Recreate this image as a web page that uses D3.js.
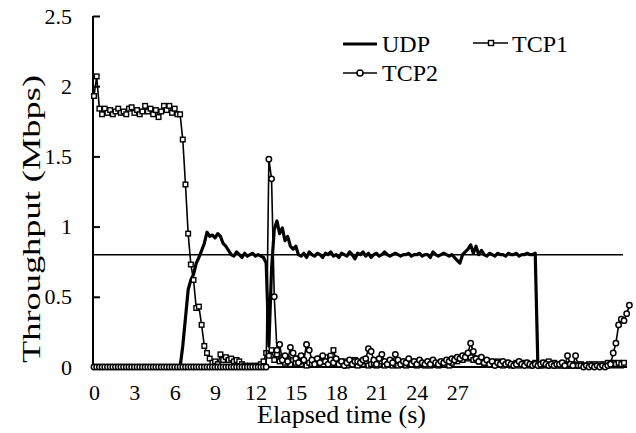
<!DOCTYPE html>
<html><head><meta charset="utf-8">
<script src="https://cdn.jsdelivr.net/npm/d3@7"></script>
</head><body style="margin:0">
<svg id="c" width="636" height="433"></svg>
<script>
// Samples (one per 0.2 of the printed time scale)
const udp = [
0,0,0,0,0,0,0,0,0,0, 0,0,0,0,0,0,0,0,0,0, 0,0,0,0,0,0,0,0,0,0, 0,0,0,
0.15,0.35,0.55,0.62,0.66,0.74,0.78,0.83,0.88,0.96,0.93,0.94,0.92,0.95,0.93,0.88,0.86,0.83,0.80,0.79,0.82,0.80,0.78,0.81,0.79,0.80,0.81,0.79,0.80,0.79,0.78,0.74,
0.15,0.70,0.98,1.04,0.95,0.99,0.90,0.93,0.86,0.84,0.86,0.80,0.79,0.81,
0.78,0.82,0.80,0.79,0.81,0.80,0.78,0.81,0.80,0.82,0.79,0.80,0.78,0.81,0.80,0.79,0.82,0.80,0.77,0.81,
0.80,0.82,0.79,0.81,0.78,0.80,0.81,0.79,0.80,0.82,0.80,0.79,0.80,0.81,0.80,0.79,0.80,0.80,0.81,0.79,
0.80,0.80,0.81,0.79,0.80,0.80,0.78,0.82,0.80,0.79,0.80,0.81,0.80,0.79,0.80,0.78,0.76,0.74,0.80,0.82,
0.84,0.87,0.81,0.86,0.80,0.83,0.80,0.79,0.81,0.80,0.79,0.81,0.80,0.80,0.79,0.81,0.80,0.80,0.81,0.79,
0.80,0.80,0.81,0.80,0.80,0.81,
0,0,0,0,0,0,0,0,0,0, 0,0,0,0,0,0,0,0,0,0, 0,0,0,0,0,0,0,0,0,0, 0,0,0
];
const tcp1 = [
1.93,2.07,1.84,1.80,1.84,1.81,1.83,1.80,1.82,1.84,1.81,1.82,1.80,1.84,1.85,1.81,1.83,1.80,1.82,1.86,
1.82,1.84,1.80,1.83,1.78,1.82,1.86,1.83,1.86,1.81,1.84,1.80,1.80,
1.62,1.30,0.95,0.73,0.62,0.42,0.43,0.30,0.15,0.10,0.06,0.03,0.04,0.02,0.09,0.05,0.07,0.05,0.06,0.04,0.05,0.04,
0.02,0.01,0.00,0.01,0.00,0.01,0.00,0.02,0.04,0.10,0.08,0.12,0.05,0.09,0.04,0.07,0.03,0.06,0.02,0.05,
0.03,0.06,0.02,0.04,0.01,0.03,0.02,0.05,0.03,0.06,0.04,0.07,0.03,0.08,0.12,0.05,0.03,0.02,0.04,0.01,
0.03,0.02,0.05,0.01,0.03,0.02,0.04,0.01,0.02,0.03,0.01,0.02,0.04,0.01,0.02,0.03,0.01,0.02,0.01,0.03,
0.02,0.01,0.02,0.04,0.02,0.01,0.03,0.02,0.01,0.02,0.01,0.03,0.02,0.01,0.02,0.03,0.02,0.01,0.03,0.05,
0.04,0.06,0.05,0.08,0.06,0.07,0.05,0.06,0.04,0.05,0.03,0.04,0.02,0.03,0.02,0.04,0.02,0.01,0.03,0.02,
0.01,0.02,0.03,0.01,0.02,0.03,0.02,0.01,0.02,0.03,0.02,0.01,0.03,0.02,0.04,0.02,0.03,0.01,0.02,0.01,
0.02,0.01,0.01,0.02,0.01,0.01,0.02,0.01,0.01,0.02,0.01,0.02,0.01,0.02,0.01,0.02,0.03,0.02,0.03,0.02,
0.03,0.02,0.03
];
const tcp2 = [
0,0,0,0,0,0,0,0,0,0, 0,0,0,0,0,0,0,0,0,0, 0,0,0,0,0,0,0,0,0,0,
0,0,0,0,0,0,0,0,0,0, 0,0,0,0,0,0,0,0,0,0, 0,0,0,0,0,0,0,0,0,0, 0,0,0,0,0,
1.48,1.34,0.50,0.12,0.16,0.05,0.08,0.04,0.14,0.10,0.06,0.03,0.08,0.05,0.16,0.12,0.05,0.02,0.06,0.03,
0.08,0.04,0.02,0.05,0.03,0.06,0.02,0.04,0.01,0.03,0.05,0.02,0.04,0.04,0.03,0.05,0.06,0.13,0.11,0.05,
0.02,0.06,0.09,0.04,0.02,0.05,0.03,0.09,0.05,0.02,0.04,0.03,0.06,0.02,0.04,0.02,0.05,0.03,0.02,0.04,
0.02,0.05,0.03,0.02,0.04,0.03,0.05,0.04,0.06,0.05,0.07,0.06,0.08,0.07,0.10,0.17,0.11,0.06,0.04,0.07,
0.03,0.05,0.02,0.04,0.01,0.03,0.02,0.04,0.02,0.03,0.02,0.01,0.02,0.04,0.02,0.01,0.03,0.02,0.01,0.02,
0.01,0.02,0.03,0.02,0.01,0.02,0.01,0.02,0.02,0.03,0.01,0.08,0.02,0.01,0.08,0.01,0.01,0.00,0.01,0.00,
0.01,0.00,0.01,0.00,0.01,0.00,0.01,0.02,0.10,0.17,0.30,0.34,0.33,0.38,0.44
];
const yTicks = [0, 0.5, 1, 1.5, 2, 2.5];
const xTickLabels = ["0","3","6","9","12","15","18","21","24","27"];
const samplesPerLabel = 15;
const refLevel = 0.8;
const seriesNames = ["UDP","TCP1","TCP2"];

const FONT = "Liberation Serif";
const svg = d3.select("#c");
const nMax = 197;
const x = d3.scaleLinear().domain([0, nMax]).range([94, 624]);
const y = d3.scaleLinear().domain([0, 2.5]).range([367, 16]);

function serif(sel, size) {
  sel.attr("font-family", FONT).attr("font-size", size).attr("fill", "#000");
}

// axes
const yAxis = d3.axisLeft(y).tickValues(yTicks).tickSizeInner(-7).tickSizeOuter(0).tickPadding(21).tickFormat(d3.format("~g"));
const gy = svg.append("g").attr("transform","translate(93,0)").call(yAxis);
gy.select(".domain").remove();
gy.selectAll(".tick line").attr("stroke","#000").attr("stroke-width",2);
serif(gy.selectAll(".tick text"), 22);

const xAxis = d3.axisBottom(x).tickValues(xTickLabels.map((d,i)=>i*samplesPerLabel)).tickSize(0).tickPadding(17).tickFormat((d,i)=>xTickLabels[i]);
const gx = svg.append("g").attr("transform","translate(0,367)").call(xAxis);
gx.select(".domain").remove();
serif(gx.selectAll(".tick text"), 22);

svg.append("line").attr("x1",93).attr("x2",93).attr("y1",y(2.5)).attr("y2",y(0)+1).attr("stroke","#000").attr("stroke-width",2);
svg.append("line").attr("x1",92).attr("x2",627).attr("y1",y(0)).attr("y2",y(0)).attr("stroke","#000").attr("stroke-width",2);

// reference line
svg.append("line").attr("x1",93).attr("x2",x(nMax)-1).attr("y1",y(refLevel)).attr("y2",y(refLevel)).attr("stroke","#000").attr("stroke-width",1.6);

const line = d3.line().x((d,i)=>x(i)).y(d=>y(d));
svg.append("path").datum(udp).attr("d",line).attr("fill","none").attr("stroke","#000").attr("stroke-width",3.2).attr("stroke-linejoin","round");

svg.append("path").datum(tcp1).attr("d",line).attr("fill","none").attr("stroke","#000").attr("stroke-width",1.6);
svg.append("g").selectAll("rect").data(tcp1).join("rect")
  .attr("x",(d,i)=>x(i)-2.3).attr("y",d=>y(d)-2.3).attr("width",4.6).attr("height",4.6)
  .attr("fill","#fff").attr("stroke","#000").attr("stroke-width",1.4);

svg.append("path").datum(tcp2).attr("d",line).attr("fill","none").attr("stroke","#000").attr("stroke-width",1.6);
svg.append("g").selectAll("circle").data(tcp2).join("circle")
  .attr("cx",(d,i)=>x(i)).attr("cy",d=>y(d)).attr("r",2.7)
  .attr("fill","#fff").attr("stroke","#000").attr("stroke-width",1.5);

// axis titles
const yt = svg.append("text").attr("transform","translate(39.5,219) rotate(-90)").attr("text-anchor","middle")
  .attr("textLength",288).attr("lengthAdjust","spacingAndGlyphs").text("Throughput (Mbps)");
serif(yt, 25);
const xt = svg.append("text").attr("x",341.5).attr("y",423).attr("text-anchor","middle").text("Elapsed time (s)");
serif(xt, 26);

// legend
const lg = svg.append("g");
lg.append("line").attr("x1",343).attr("x2",377).attr("y1",44).attr("y2",44).attr("stroke","#000").attr("stroke-width",3.2);
serif(lg.append("text").attr("x",382).attr("y",52).text(seriesNames[0]), 24);
lg.append("line").attr("x1",473).attr("x2",508).attr("y1",43).attr("y2",43).attr("stroke","#000").attr("stroke-width",1.6);
lg.append("rect").attr("x",491-2.5).attr("y",43-2.5).attr("width",5).attr("height",5).attr("fill","#fff").attr("stroke","#000").attr("stroke-width",1.4);
serif(lg.append("text").attr("x",512).attr("y",52).text(seriesNames[1]), 24);
lg.append("line").attr("x1",343).attr("x2",377).attr("y1",73).attr("y2",73).attr("stroke","#000").attr("stroke-width",1.6);
lg.append("circle").attr("cx",360).attr("cy",73).attr("r",3).attr("fill","#fff").attr("stroke","#000").attr("stroke-width",1.5);
serif(lg.append("text").attr("x",382).attr("y",81).text(seriesNames[2]), 24);
</script></body></html>
